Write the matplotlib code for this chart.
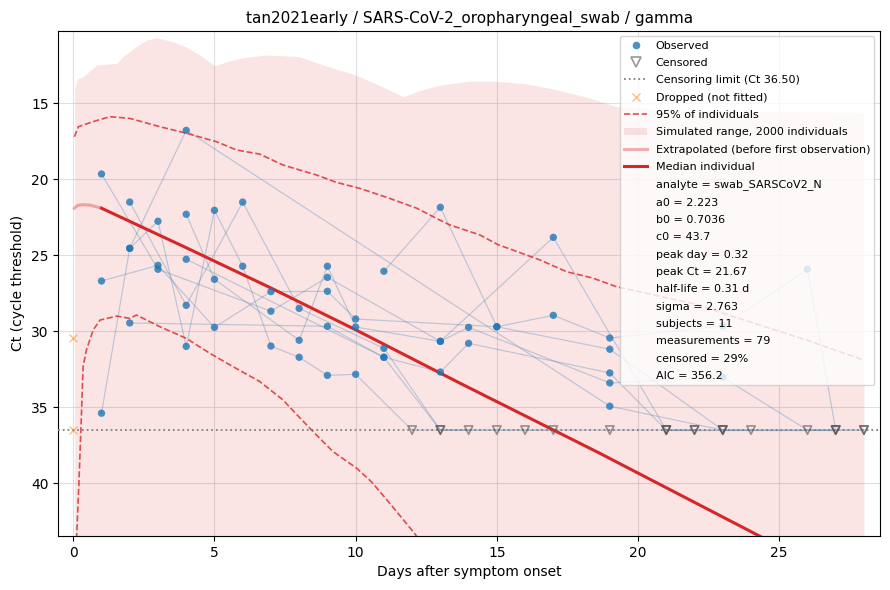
import matplotlib
matplotlib.use("Agg")
import matplotlib.pyplot as plt
from matplotlib.lines import Line2D
from matplotlib.patches import Patch
import numpy as np

# ---------------- data ----------------
CENS_LIMIT = 36.5

# per-measurement table (subject id, day, Ct, censored flag)
obs_subject = [1]*6 + [2]*11 + [3]*8 + [4]*10 + [5]*8 + [6]*8 + [7]*11 + [8]*6 + [9]*8 + [10]*3
obs_day = [1, 2, 4, 19, 23, 27,
           2, 3, 4, 5, 6, 7, 8, 9, 10, 12, 14,
           1, 3, 7, 9, 13, 17, 21, 22,
           1, 3, 5, 7, 9, 10, 15, 19, 23, 28,
           2, 4, 6, 8, 11, 13, 15, 17,
           2, 9, 11, 13, 14, 19, 21, 24,
           4, 5, 8, 9, 10, 13, 14, 19, 23, 26, 28,
           4, 11, 13, 16, 19, 22,
           11, 13, 15, 17, 19, 23, 26, 27,
           21, 23, 27]
obs_ct = [35.39, 24.54, 16.78, 34.93, 36.5, 36.5,
          24.54, 22.76, 30.99, 22.04, 25.72, 30.97, 31.71, 32.90, 32.83, 36.5, 36.5,
          19.65, 25.92, 28.68, 26.45, 30.66, 23.82, 36.5, 36.5,
          26.69, 25.66, 29.74, 27.39, 27.37, 29.19, 29.70, 31.18, 36.5, 36.5,
          21.50, 28.29, 21.50, 28.49, 31.12, 36.5, 36.5, 36.5,
          29.45, 29.67, 31.71, 32.68, 30.79, 32.74, 36.5, 36.5,
          22.30, 26.58, 30.59, 25.72, 29.72, 30.66, 29.74, 33.40, 33.03, 36.5, 36.5,
          25.26, 31.71, 36.5, 36.5, 36.5, 36.5,
          26.05, 21.84, 29.70, 28.95, 30.44, 29.65, 25.92, 36.5,
          36.5, 36.5, 36.5]
obs_cens = [0, 0, 0, 0, 1, 1,
            0, 0, 0, 0, 0, 0, 0, 0, 0, 1, 1,
            0, 0, 0, 0, 0, 0, 1, 1,
            0, 0, 0, 0, 0, 0, 0, 0, 1, 1,
            0, 0, 0, 0, 0, 1, 1, 1,
            0, 0, 0, 0, 0, 0, 1, 1,
            0, 0, 0, 0, 0, 0, 0, 0, 0, 1, 1,
            0, 0, 1, 1, 1, 1,
            0, 0, 0, 0, 0, 0, 0, 1,
            1, 1, 1]

dropped_day = [0, 0]
dropped_ct = [30.46, 36.5]

# simulated range (upper envelope; lower envelope below the plot)
sim_day = [0.05, 0.15, 0.35, 0.83, 1.54, 1.76, 2.2, 2.6, 2.95, 3.53, 4.0, 4.48,
           5.02, 5.43, 6.0, 6.85, 8.0, 8.85, 10.0, 11.0, 11.68, 12.3, 13.0, 14.0,
           14.75, 16.0, 17.1, 18.2, 19.2, 21.0, 24.0, 28.0]
sim_upper = [14.0, 13.4, 13.25, 12.48, 12.37, 11.93, 11.3, 10.84, 10.68, 10.95, 11.3, 11.82,
             12.55, 12.26, 12.0, 11.82, 11.93, 12.48, 13.14, 13.95, 14.57, 14.15, 13.8, 13.55,
             13.53, 13.7, 14.1, 14.6, 15.2, 15.4, 15.5, 15.6]
sim_lower = [48.0] * len(sim_day)

# 95% of individuals
p_hi_day = [0.04, 0.18, 0.71, 1.3, 2.0, 3.07, 4.01, 5.08, 5.78, 6.6, 7.43, 8.62, 9.32,
            10.15, 11.2, 12.16, 12.86, 13.33, 14.4, 15.04, 16.52, 17.47, 18.4, 19.24,
            20.06, 22.0, 24.0, 26.0, 28.0]
p_hi_ct = [17.2, 16.54, 16.2, 15.88, 15.99, 16.54, 16.97, 17.53, 18.07, 18.34, 19.06, 19.72, 20.2,
           20.6, 21.25, 21.9, 22.57, 23.0, 23.66, 24.3, 25.3, 26.08, 26.5, 27.07,
           27.4, 28.2, 29.4, 30.6, 31.9]
p_lo_day = [0.1, 0.12, 0.2, 0.27, 0.35, 0.47, 0.71, 0.95, 1.54, 2.0, 2.24, 3.07, 4.0, 4.84,
            5.66, 6.6, 7.43, 7.67, 8.44, 9.2, 10.03, 10.56, 11.2, 12.1, 12.6]
p_lo_ct = [46.0, 43.5, 40.0, 36.5, 32.3, 31.2, 29.9, 29.26, 29.0, 29.15, 28.93, 29.7, 30.46, 31.45,
           32.33, 33.3, 34.52, 35.0, 36.5, 37.92, 39.0, 39.9, 41.3, 43.33, 44.8]

# median individual
ext_day = [0.0, 0.15, 0.32, 0.6, 1.0]
ext_ct = [21.97, 21.72, 21.67, 21.70, 21.90]
med_day = [1.0, 4.0, 7.0, 10.0, 13.7, 18.65, 24.3, 28.0]
med_ct = [21.9, 24.5, 27.15, 29.9, 33.42, 38.03, 43.47, 47.1]

info_lines = ["analyte = swab_SARSCoV2_N", "a0 = 2.223", "b0 = 0.7036", "c0 = 43.7",
              "peak day = 0.32", "peak Ct = 21.67", "half-life = 0.31 d", "sigma = 2.763",
              "subjects = 11", "measurements = 79", "censored = 29%", "AIC = 356.2"]

# ---------------- plot ----------------
RED = "#d62728"
fig = plt.figure(figsize=(8.9, 5.9), dpi=100)
ax = fig.add_axes([0.0655, 0.0915, 0.9233, 0.8565])

ax.fill_between(sim_day, sim_upper, sim_lower, color=RED, alpha=0.12, linewidth=0, zorder=1)

subj = np.array(obs_subject)
day = np.array(obs_day, dtype=float)
ct = np.array(obs_ct, dtype=float)
cens = np.array(obs_cens, dtype=bool)
for s in np.unique(subj):
    m = subj == s
    ax.plot(day[m], ct[m], color="steelblue", alpha=0.33, lw=0.85, zorder=2)

ax.plot(p_hi_day, p_hi_ct, ls="--", color=RED, alpha=0.8, lw=1.2, zorder=3)
ax.plot(p_lo_day, p_lo_ct, ls="--", color=RED, alpha=0.8, lw=1.2, zorder=3)

ax.axhline(CENS_LIMIT, color="gray", ls=":", lw=1.3, zorder=3)

ax.plot(ext_day, ext_ct, color=RED, alpha=0.35, lw=2.2, zorder=3.5, solid_capstyle="butt")
ax.plot(med_day, med_ct, color=RED, lw=2.2, zorder=3.5)

ax.scatter(day[~cens], ct[~cens], s=28, color="#1f77b4", alpha=0.8, edgecolors="none", zorder=4)
ax.scatter(day[cens], ct[cens], s=36, marker="v", facecolors="none",
           edgecolors="#555555", alpha=0.6, linewidths=1.2, zorder=4)
ax.scatter(dropped_day, dropped_ct, s=30, marker="x", color="#ff7f0e", alpha=0.5,
           linewidths=1.0, zorder=4)

ax.set_xlim(-0.53, 28.57)
ax.set_ylim(43.47, 10.22)
ax.set_xticks([0, 5, 10, 15, 20, 25])
ax.set_yticks([15, 20, 25, 30, 35, 40])
ax.grid(True, color="#cccccc", alpha=0.6, lw=0.8)
ax.set_axisbelow(True)
ax.set_xlabel("Days after symptom onset", fontsize=10)
ax.set_ylabel("Ct (cycle threshold)", fontsize=10)
ax.set_title("tan2021early / SARS-CoV-2_oropharyngeal_swab / gamma", fontsize=11)

handles = [
    Line2D([], [], ls="none", marker="o", color="#1f77b4", alpha=0.8, markersize=5.5, markeredgewidth=0),
    Line2D([], [], ls="none", marker="v", markerfacecolor="none", markeredgecolor="#555555",
           alpha=0.6, markersize=6.5, markeredgewidth=1.2),
    Line2D([], [], color="gray", ls=":", lw=1.3),
    Line2D([], [], ls="none", marker="x", color="#ff7f0e", alpha=0.5, markersize=6),
    Line2D([], [], color=RED, ls="--", alpha=0.8, lw=1.2),
    Patch(facecolor=RED, alpha=0.12, edgecolor="none"),
    Line2D([], [], color=RED, alpha=0.35, lw=2.2),
    Line2D([], [], color=RED, lw=2.2),
]
labels = ["Observed", "Censored", "Censoring limit (Ct 36.50)", "Dropped (not fitted)",
          "95% of individuals", "Simulated range, 2000 individuals",
          "Extrapolated (before first observation)", "Median individual"]
for t in info_lines:
    handles.append(Line2D([], [], color="none"))
    labels.append(t)
leg = ax.legend(handles, labels, loc="upper right", fontsize=8, framealpha=0.8,
                labelspacing=0.66)
leg.set_zorder(10)

fig.savefig("out.png", dpi=100)
